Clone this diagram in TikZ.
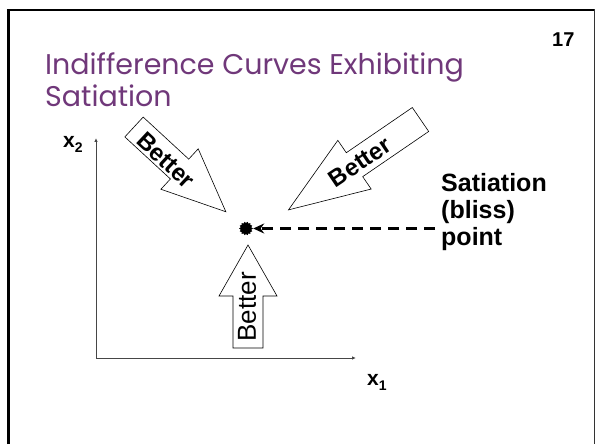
\documentclass[tikz,border=0pt]{standalone}
\usepackage{fontspec}
\setmainfont{Liberation Sans}
\newfontfamily\titlefont{Poppins}
\usetikzlibrary{arrows.meta,shapes.geometric}
\definecolor{titlepurple}{RGB}{112,56,122}
\definecolor{axisgray}{RGB}{70,70,70}
\newcommand{\fatarrow}[6]{%
  \draw[blockarrow,shift={(#1)},rotate=#2]
    (0,{-#4/2}) -- ({#3-#6},{-#4/2}) -- ({#3-#6},{-#5/2}) -- (#3,0)
    -- ({#3-#6},{#5/2}) -- ({#3-#6},{#4/2}) -- (0,{#4/2}) -- cycle;}
\begin{document}
\begin{tikzpicture}[x=1pt,y=1pt,
  blockarrow/.style={draw=black,line width=0.6pt,fill=white,line join=miter},
  bettertext/.style={inner sep=0pt,font=\bfseries\fontsize{24}{24}\selectfont},
  axisline/.style={draw=axisgray,line width=0.8pt,-{Latex[length=4pt,width=3.5pt]}},
  axislabel/.style={anchor=base west,inner sep=0pt,font=\bfseries\fontsize{21}{21}\selectfont},
  titletext/.style={anchor=base west,inner sep=0pt,text=titlepurple,font=\titlefont\fontsize{28.5}{28.5}\selectfont},
  dasharrow/.style={line width=2.6pt,dash pattern=on 11pt off 7pt,-{Stealth[length=11pt,width=10pt]}}]
\useasboundingbox (0,0) rectangle (596,444);
% frame
\draw[line width=3pt] (8.3,0) -- (8.3,434.7);
\draw[line width=2pt] (6.8,433.7) -- (594.3,433.7);
\draw[line width=1.2pt,draw=black!80] (594.3,434.7) -- (594.3,0);
% title
\node[titletext] (t1) at (45,369) {Indifference Curves Exhibiting};
\node[titletext] (t2) at (45,337) {Satiation};
\node[anchor=base west,inner sep=0pt,font=\bfseries\fontsize{20}{20}\selectfont] (num) at (552,397) {17};
% axes
\coordinate (O) at (96,86);
\coordinate (Ytop) at (96,306);
\coordinate (Xend) at (356,86);
\draw[axisline] (O) -- (Ytop);
\draw[axisline] (O) -- (Xend);
\node[axislabel] (x2) at (63,296) {x\raisebox{-5pt}{\fontsize{14}{14}\selectfont 2}};
\node[axislabel] (x1) at (367,59) {x\raisebox{-5pt}{\fontsize{14}{14}\selectfont 1}};
% block arrows
\fatarrow{134,317}{-42.7}{125}{27}{55}{63}
\fatarrow{420.5,324.5}{214.4}{160}{29}{59}{80}
\fatarrow{248,96}{90}{103}{30}{58}{51}
\node[bettertext,rotate=-43] (b1) at (166,284) {Better};
\node[bettertext,rotate=34] (b2) at (360,282) {Better};
\node[inner sep=0pt,font=\fontsize{26}{26}\selectfont,rotate=90] (b3) at (247,137) {Better};
% bliss point
\node[star,star points=14,star point ratio=0.8,fill=black,minimum size=11pt,inner sep=0pt] (bliss) at (246,215.5) {};
\node[anchor=north west,align=left,inner sep=0pt,font=\bfseries\fontsize{25}{27}\selectfont] (sat) at (441,271) {Satiation\\(bliss)\\point};
\coordinate (dstart) at (435,215.5);
\draw[dasharrow] (dstart) -- (bliss.east);
\end{tikzpicture}
\end{document}
